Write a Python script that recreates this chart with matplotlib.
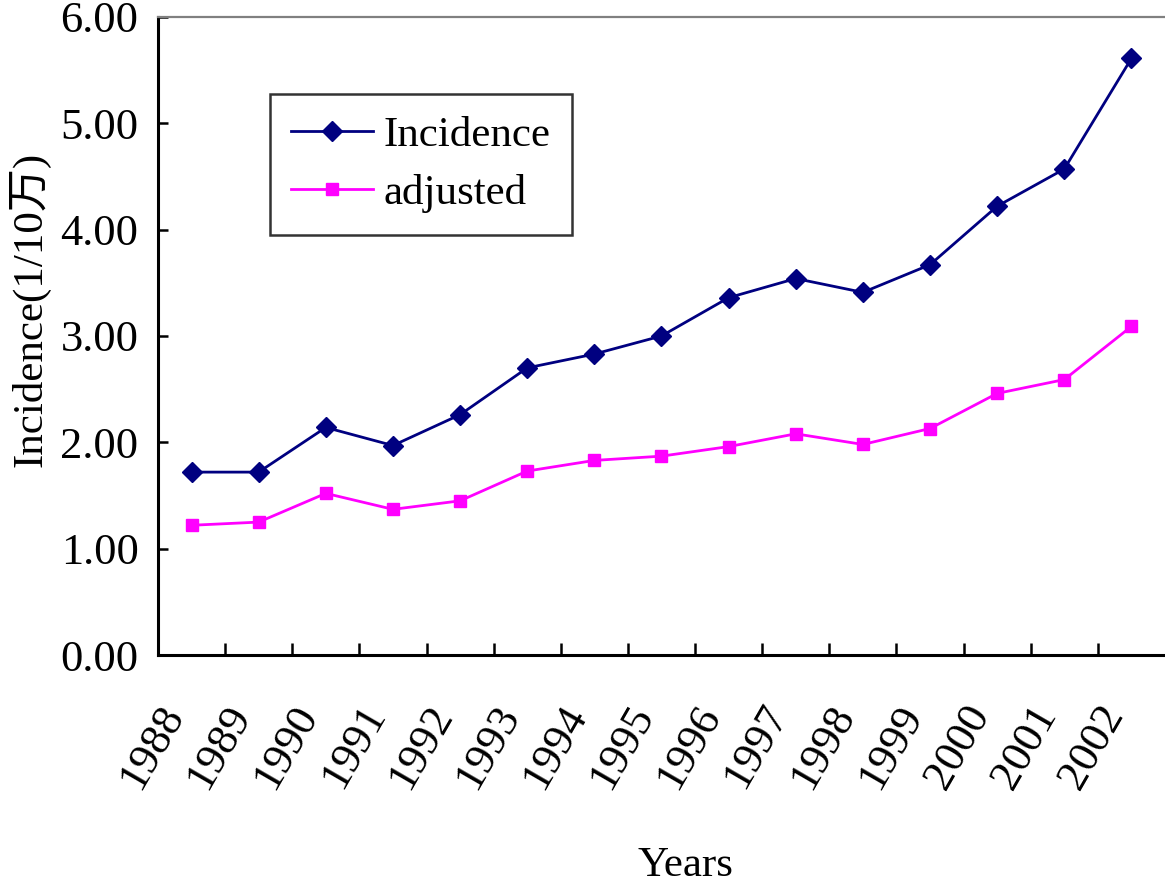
import matplotlib
matplotlib.use("Agg")
import matplotlib.pyplot as plt
from matplotlib.ticker import FixedLocator, FuncFormatter

years = ["1988", "1989", "1990", "1991", "1992", "1993", "1994", "1995",
         "1996", "1997", "1998", "1999", "2000", "2001", "2002"]
incidence = [1.72, 1.72, 2.14, 1.97, 2.26, 2.70, 2.83, 3.00,
             3.36, 3.54, 3.41, 3.67, 4.22, 4.57, 5.61]
adjusted = [1.22, 1.25, 1.52, 1.37, 1.45, 1.73, 1.83, 1.87,
            1.96, 2.08, 1.98, 2.13, 2.46, 2.59, 3.09]
y_ticks = [0, 1, 2, 3, 4, 5, 6]

FONT = ["Liberation Serif", "Noto Sans CJK SC", "DejaVu Sans"]
plt.rcParams["font.family"] = FONT

fig = plt.figure(figsize=(11.65, 8.9), dpi=100)
ax = fig.add_axes([0.1356, 0.264, 0.8644, 0.717])

x = list(range(len(years)))
ax.plot(x, incidence, color="#000080", lw=2.0, marker="D", ms=10.5,
        mec="#000080", mfc="#000080", label="Incidence", clip_on=False)
ax.plot(x, adjusted, color="#FF00FF", lw=2.0, marker="s", ms=9,
        mec="#FF00FF", mfc="#FF00FF", label="adjusted", clip_on=False)

ax.set_xlim(-0.5, len(years) - 0.5)
ax.set_ylim(0, 6)

# category labels at centres, tick marks on the boundaries between them
ax.xaxis.set_major_locator(FixedLocator([i + 0.5 for i in range(len(years) - 1)]))
ax.xaxis.set_major_formatter(FuncFormatter(lambda v, p: ""))
ax.xaxis.set_minor_locator(FixedLocator(x))
ax.set_xticklabels(years, minor=True)
ax.tick_params(axis="x", which="major", direction="in", length=9, width=1.8, color="black")
ax.tick_params(axis="x", which="minor", length=0, pad=31, labelsize=32)
for lab in ax.get_xticklabels(minor=True):
    lab.set_rotation(60)
    lab.set_ha("right")
    lab.set_va("top")

ax.yaxis.set_major_locator(FixedLocator(y_ticks))
ax.yaxis.set_major_formatter(FuncFormatter(lambda v, p: f"{v:.2f}"))
ax.tick_params(axis="y", direction="in", length=7, width=1.8, pad=14, labelsize=32)

for side in ("left", "bottom"):
    ax.spines[side].set_linewidth(2.2)
    ax.spines[side].set_color("black")
ax.spines["top"].set_color("#808080")
ax.spines["top"].set_linewidth(1.6)
ax.spines["right"].set_visible(False)

ax.set_ylabel("Incidence(1/10万)", fontsize=31)
ax.yaxis.set_label_coords(-0.107, 0.541)
ax.set_xlabel("Years", fontsize=31)
ax.xaxis.set_label_coords(0.524, -0.3)

leg = ax.legend(loc="upper left", bbox_to_anchor=(0.111, 0.879), borderaxespad=0,
                fontsize=31, frameon=True, fancybox=False, borderpad=0.5,
                handlelength=1.9, handletextpad=0.25, labelspacing=0.45)
leg.get_frame().set_edgecolor("black")
leg.get_frame().set_linewidth(1.8)

fig.savefig("out.png", dpi=100)
